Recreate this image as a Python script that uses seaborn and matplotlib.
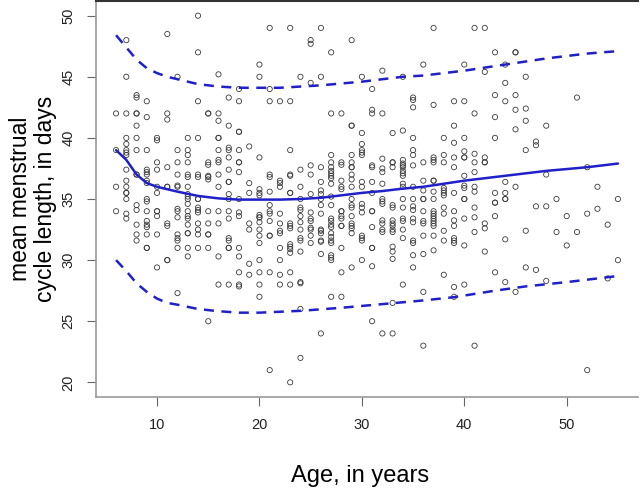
import pandas as pd
import matplotlib
matplotlib.use("Agg")
import matplotlib.pyplot as plt
import seaborn as sns

# DATA ---------------------------------------------------------------
# one list of cycle lengths (days) for every age 6..55
ages = list(range(6, 56))
cycle_by_age = [
    [42, 39, 36, 34],                                                                  # 6
    [48, 45, 42, 40, 39.5, 39, 38.8, 38.6, 37.4, 36.5, 36, 35.5, 35.5, 35, 33.8, 33.4],  # 7
    [43.5, 43.3, 42, 42, 41, 40, 39, 37, 37, 34.5, 34.1, 32.9, 32.1, 31.6],             # 8
    [43, 41.7, 39, 37.4, 37.2, 37, 36.5, 36.3, 35, 34.8, 34, 33.2, 32.9, 32.7, 32.1, 31, 31],  # 9
    [40, 39.8, 38, 37.4, 36, 35.5, 34, 34, 33.6, 32.1, 29.4],                           # 10
    [48.5, 42, 41.5, 37.6, 36, 36, 33, 32.8, 30, 30],                                   # 11
    [45, 39, 38, 37, 36.1, 36, 34.2, 34, 33.5, 32.1, 31.8, 31.6, 31, 27.3],             # 12
    [40, 39, 38.6, 38, 37, 36.8, 36, 35.4, 35.2, 35, 34.6, 34, 33.6, 33.4, 32.9, 32.2, 32.2, 31, 30.3],  # 13
    [50, 47, 43, 40, 37, 36.8, 35, 35, 34.3, 34.1, 33.9, 33, 32.5, 32.1, 31],           # 14
    [42, 42, 38, 37.8, 36.9, 36.8, 36.6, 34, 33, 32.1, 32.1, 31, 25],                   # 15
    [45.2, 42, 41.4, 40, 40, 39, 38.2, 38, 37, 36, 34, 33, 30.3, 28],                   # 16
    [43.3, 41, 39.2, 39, 38.4, 37.4, 36.4, 36.4, 35.4, 35, 34, 33.4, 31.8, 31.6, 31, 31, 28],  # 17
    [44, 43, 40.5, 40.5, 39, 38, 38, 37.2, 35, 33.9, 33.6, 31, 30.3, 29, 28, 27.85],    # 18
    [39.3, 36.3, 35.5, 33, 32.5, 29.7, 28.8],                                           # 19
    [46, 45, 38.4, 35.8, 35.5, 35.3, 33.7, 33.5, 33.5, 33.1, 32.5, 32, 31.4, 30, 29, 28, 27],  # 20
    [49, 44, 43, 37, 36.8, 35.6, 34.5, 34, 33.8, 33.2, 32, 32, 29, 21],                 # 21
    [43, 36.5, 36.3, 36, 33.8, 33, 32.4, 32.2, 31, 30, 28.8, 28],                       # 22
    [49, 43, 39, 37, 36.9, 35.5, 35.5, 33, 32.8, 32.6, 31.3, 31.1, 30.9, 30.6, 29, 28, 20],  # 23
    [45, 37.4, 36, 35, 34.3, 34.1, 33.6, 33.1, 32.5, 31.8, 31.6, 30.7, 28.2, 28.1, 26, 22],  # 24
    [48, 47.7, 44.5, 37.75, 37, 35.4, 33.9, 33.4, 33.2, 32.65, 32.5, 32, 31.4],         # 25
    [49, 45, 37.6, 36.4, 35.7, 35.4, 35, 34.5, 33.8, 32.5, 32.4, 32.2, 31.6, 31.5, 30.5, 24],  # 26
    [47, 42, 38.6, 38, 37.6, 37.3, 37.1, 36.9, 36.7, 36.25, 35.2, 34.5, 33.4, 33.2, 32.9, 32.7,
     32.2, 31.9, 31.6, 31.4, 30.4, 30.2, 30, 27],                                       # 27
    [42, 38, 37.8, 36.5, 36, 35.8, 34, 34, 33.6, 33.4, 32.8, 32.8, 31, 29, 27],         # 28
    [48, 41, 41, 38.6, 38, 37.6, 37.6, 37, 36.6, 36, 35, 34.5, 34.3, 33.6, 33, 32.8, 32.6, 32.2, 29.4],  # 29
    [45, 40.4, 39.5, 39, 38.8, 38.6, 36.4, 36, 34.6, 34.3, 33.9, 32, 31.8, 31.6, 30],   # 30
    [44, 42.3, 42, 37.75, 37.6, 36.4, 35.5, 34, 34, 32.7, 31, 31, 29.5, 25],            # 31
    [45.5, 42, 38.3, 37.5, 37.2, 36.25, 35, 34.8, 34.6, 33.25, 33, 32.5, 32.3, 24],     # 32
    [40.4, 38, 38, 37.6, 34.5, 34.3, 33.25, 33, 32.8, 32.5, 32.3, 31.1, 30.7, 30.1, 26.5, 24],  # 33
    [45, 40.6, 38.2, 37.9, 37.75, 37.6, 37.3, 37.1, 36.9, 36.25, 36, 35, 34.3, 33.4, 33.2, 32.5, 31.8, 28],  # 34
    [43.3, 43.1, 42.5, 40, 39, 38.6, 37.75, 36, 35, 34.4, 34.1, 33.4, 33.1, 31.6, 31.4, 30.4, 29.4],  # 35
    [46, 38, 36.5, 35.7, 35, 35, 34, 33.2, 33, 32, 30.5, 27.4, 23],                     # 36
    [49, 42.7, 38.4, 38.2, 38, 36.5, 36.5, 35.6, 35, 34, 33.8, 33.6, 33.4, 33.2, 33, 32.8, 32, 30.8],  # 37
    [40, 38.6, 38, 35.9, 35.7, 35.5, 35.3, 34.3, 33.8, 32.4, 31.6, 28.8],               # 38
    [43, 41, 39.6, 38.4, 37.6, 35.5, 34, 33.25, 32.8, 31.8, 31.6, 31.4, 27.8, 27],      # 39
    [46, 43, 40, 38.9, 38.4, 38.4, 36.9, 36.1, 35.9, 35, 35, 33.4, 31.2, 28],           # 40
    [49, 42, 38.7, 38, 37.2, 36, 35.6, 34.3, 33.5, 32.3, 23],                           # 41
    [49, 45.4, 38.4, 38, 38, 33, 32.6, 30.7],                                           # 42
    [47, 43.5, 41.7, 40, 35.5, 34.7, 34.7, 33.6, 29],                                   # 43
    [46, 44.5, 43, 36.4, 35.5, 35, 35, 31.7, 28.2],                                     # 44
    [47, 47, 43.5, 42.3, 40.7, 36, 27.4],                                               # 45
    [45, 42.4, 41.4, 39, 32.4, 29.4],                                                   # 46
    [39.7, 39.4, 34.4, 29.2],                                                           # 47
    [41, 37, 34.4, 28.3],                                                               # 48
    [35, 32.3],                                                                         # 49
    [33.6, 31.2],                                                                       # 50
    [43.3, 32.3],                                                                       # 51
    [37.6, 33.8, 21],                                                                   # 52
    [36, 34.2],                                                                         # 53
    [32.9, 28.5],                                                                       # 54
    [35, 30],                                                                           # 55
]

# fitted mean and limits
fit_age = [6, 7, 8, 9, 10, 12, 14, 16, 18, 20, 22, 24, 26, 28, 30, 32, 34, 36, 40, 44, 48, 52, 55]
fit_mean = [39.0, 38.2, 37.0, 36.3, 36.0, 35.6, 35.25, 35.05, 34.95, 34.95, 34.95, 35.0,
            35.1, 35.3, 35.5, 35.65, 35.85, 36.0, 36.5, 36.9, 37.3, 37.6, 37.9]
upper_age = [6, 7, 8, 9, 10, 11, 12, 13, 14, 15, 16, 18, 20, 22, 24, 26, 28, 30, 32, 34, 36, 40, 44, 48, 52, 55]
upper = [48.4, 47.4, 46.4, 45.7, 45.3, 45.0, 44.8, 44.6, 44.4, 44.3, 44.2, 44.1, 44.1, 44.1,
         44.2, 44.3, 44.45, 44.6, 44.8, 45.0, 45.1, 45.5, 46.0, 46.5, 46.9, 47.1]
lower_age = [6, 7, 8, 9, 10, 11, 12, 14, 16, 18, 20, 24, 28, 32, 36, 39, 43, 46, 50, 55]
lower = [30.0, 29.1, 28.1, 27.4, 26.85, 26.5, 26.35, 26.0, 25.82, 25.7, 25.7, 25.85, 26.1,
         26.4, 26.7, 26.97, 27.5, 27.85, 28.2, 28.7]

# build table
rows = []
for a, vals in zip(ages, cycle_by_age):
    for v in vals:
        rows.append((a, v))
data = pd.DataFrame(rows, columns=["age", "cycle"])

# PLOT ---------------------------------------------------------------
sns.set_style("white")
plt.rcParams["font.family"] = ["Liberation Sans", "DejaVu Sans"]

fig = plt.figure(figsize=(6.4, 4.9), dpi=100)
ax = fig.add_axes([96 / 640, 93 / 490, 542 / 640, 396 / 490])

sns.scatterplot(data=data, x="age", y="cycle", ax=ax, marker="o", s=14,
                facecolor="none", edgecolor="#3a3a3a", linewidth=0.6, zorder=2)

line_col = "#2020c8"
sns.lineplot(x=fit_age, y=fit_mean, ax=ax, color=line_col, lw=1.8, zorder=3)
sns.lineplot(x=upper_age, y=upper, ax=ax, color=line_col, lw=1.8, ls=(0, (4, 3)), zorder=3)
sns.lineplot(x=lower_age, y=lower, ax=ax, color=line_col, lw=1.8, ls=(0, (4, 3)), zorder=3)

ax.set_xlim(4.04, 56.96)
ax.set_ylim(18.8, 51.2)
ax.set_xticks([10, 20, 30, 40, 50])
ax.set_yticks([20, 25, 30, 35, 40, 45, 50])
ax.tick_params(axis="both", length=6.5, width=0.8, color="#666666", pad=8.4,
               labelsize=10.5, labelcolor="#222222", left=True, bottom=True)
plt.setp(ax.get_yticklabels(), rotation=90, va="center")

for side in ["left", "bottom"]:
    ax.spines[side].set_color("#9a9a9a")
    ax.spines[side].set_linewidth(1.2)
ax.spines["top"].set_color("#333333")
ax.spines["top"].set_linewidth(1.5)
ax.spines["right"].set_visible(False)

ax.set_xlabel("Age, in years", fontsize=17, color="black")
ax.xaxis.set_label_coords(0.487, -0.171)
ax.set_ylabel("mean menstrual\ncycle length, in days", fontsize=16.5, linespacing=1.1,
              color="black")
ax.yaxis.set_label_coords(-0.072, 0.5)

fig.savefig("out.png", dpi=100)
